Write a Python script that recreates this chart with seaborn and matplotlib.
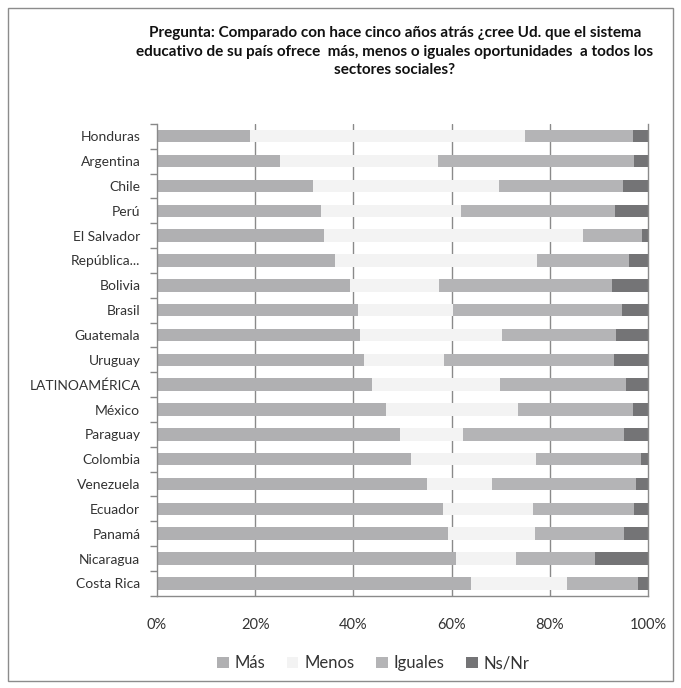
import pandas as pd
import numpy as np
import seaborn as sns
import matplotlib.pyplot as plt
from matplotlib.patches import Patch, Rectangle

countries = ["Honduras", "Argentina", "Chile", "Perú", "El Salvador", "República...",
             "Bolivia", "Brasil", "Guatemala", "Uruguay", "LATINOAMÉRICA", "México",
             "Paraguay", "Colombia", "Venezuela", "Ecuador", "Panamá", "Nicaragua",
             "Costa Rica"]
mas = [19.0, 25.1, 31.7, 33.5, 34.1, 36.2, 39.4, 40.9, 41.3, 42.2, 43.7, 46.6,
       49.4, 51.8, 55.0, 58.2, 59.3, 61.0, 63.9]
menos = [56.0, 32.1, 37.9, 28.5, 52.7, 41.2, 18.0, 19.4, 29.0, 16.2, 26.1, 26.9,
         13.0, 25.4, 13.2, 18.4, 17.7, 12.2, 19.6]
iguales = [21.9, 39.9, 25.4, 31.2, 12.0, 18.7, 35.3, 34.4, 23.2, 34.6, 25.7, 23.4,
           32.8, 21.4, 29.4, 20.5, 18.2, 16.1, 14.4]
nsnr = [3.1, 2.9, 5.0, 6.8, 1.2, 3.9, 7.3, 5.3, 6.5, 7.0, 4.5, 3.1,
        4.8, 1.4, 2.4, 2.9, 4.8, 10.7, 2.1]

series = ["Más", "Menos", "Iguales", "Ns/Nr"]
colors = ["#b0b0b2", "#f3f3f3", "#b4b4b6", "#747476"]

df = pd.DataFrame({"País": countries, "Más": mas, "Menos": menos,
                   "Iguales": iguales, "Ns/Nr": nsnr})
cum = df[series].cumsum(axis=1)
cum = cum.div(cum["Ns/Nr"], axis=0) * 100
cum["País"] = df["País"]

sns.set_style("white")
plt.rcParams["font.family"] = ["Lato", "DejaVu Sans"]

fig = plt.figure(figsize=(6.81, 6.88), dpi=100)
ax = fig.add_axes([0.2305, 0.134, 0.721, 0.686])

for s, c in reversed(list(zip(series, colors))):
    sns.barplot(data=cum, x=s, y="País", color=c, orient="h", width=0.5,
                edgecolor="none", saturation=1, ax=ax)

ax.set_xlim(0, 100)
ax.set_xticks([0, 20, 40, 60, 80, 100])
ax.set_xticklabels(["0%", "20%", "40%", "60%", "80%", "100%"], fontsize=10.5, color="#333333")
ax.tick_params(axis="x", length=0, pad=16)
ax.tick_params(axis="y", which="major", left=False, length=0, labelsize=10,
               labelcolor="#333333", pad=12)
ax.set_yticks(np.arange(len(countries) + 1) - 0.5, minor=True)
ax.tick_params(axis="y", which="minor", left=True, length=5, width=1,
               color="#888888", direction="out")
ax.set_xlabel("")
ax.set_ylabel("")
for x in [20, 40, 60, 80]:
    ax.axvline(x, color="#8a8a8a", lw=1, zorder=0)
ax.set_axisbelow(True)
ax.spines["top"].set_visible(False)
for side in ["left", "right", "bottom"]:
    ax.spines[side].set_color("#8a8a8a")
    ax.spines[side].set_linewidth(1)

handles = [Patch(facecolor=c, edgecolor="none", label=s) for s, c in zip(series, colors)]
fig.legend(handles=handles, loc="center", bbox_to_anchor=(0.548, 0.036), ncol=4,
           frameon=False, fontsize=12, handlelength=0.7, handleheight=0.7,
           handletextpad=0.35, columnspacing=1.3, labelcolor="#333333")

fig.text(0.58, 0.962, "Pregunta: Comparado con hace cinco años atrás ¿cree Ud. que el sistema\n"
         "educativo de su país ofrece  más, menos o iguales oportunidades  a todos los\n"
         "sectores sociales?", ha="center", va="top", fontsize=11, fontweight="bold",
         linespacing=1.4, color="#111111")

fig.patches.append(Rectangle((8 / 681, 7 / 688), 665 / 681, 673 / 688, transform=fig.transFigure,
                             fill=False, edgecolor="#8c8c8c", lw=1))

fig.savefig("out.png", dpi=100)
